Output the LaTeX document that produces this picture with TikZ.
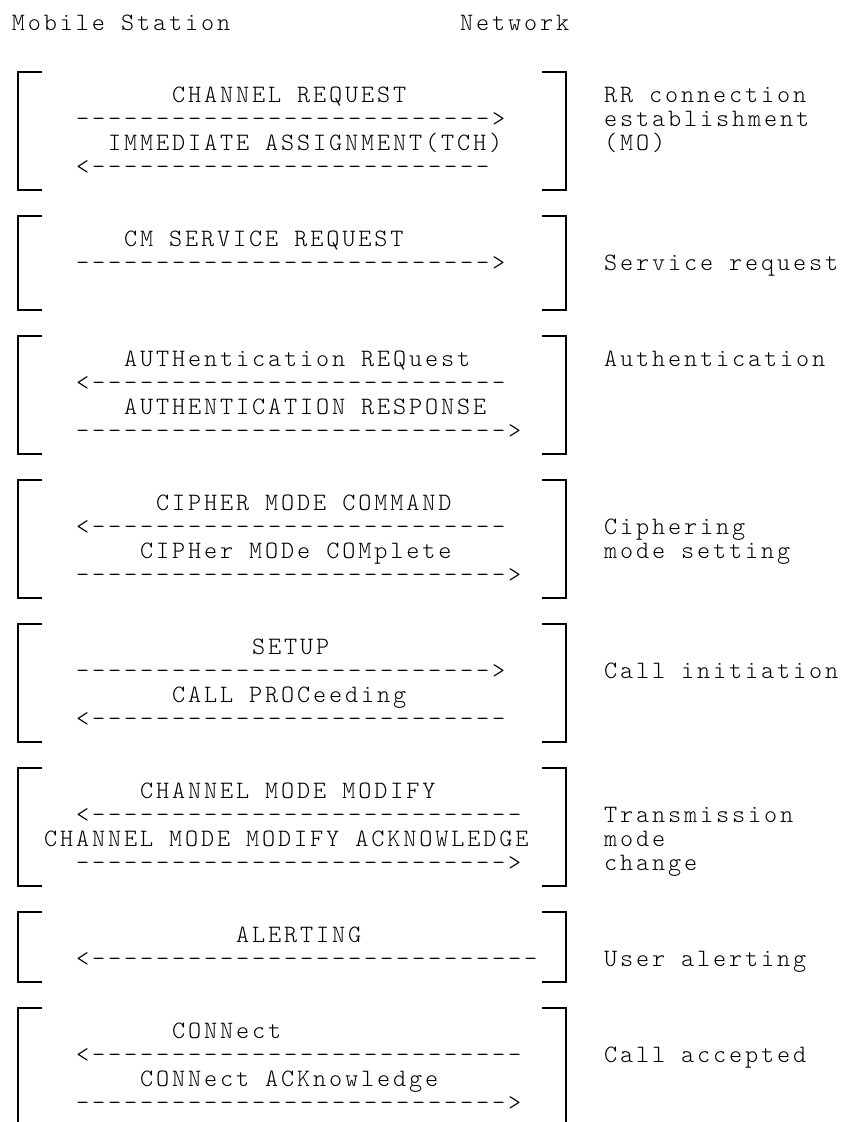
\documentclass[tikz,border=0pt]{standalone}
\usepackage{fontspec}
\newfontfamily\courfont[LetterSpace=11.5]{lmmonolt10-regular.otf}
\usepackage{tikz}

\begin{document}
\begin{tikzpicture}[x=16pt, y=-24pt, shift={(12pt,-30pt)},
  txt/.style={anchor=base west, inner sep=0pt, outer sep=0pt,
              text height=15pt, text depth=4pt,
              font=\courfont\fontsize{25}{24}\selectfont},
  brk/.style={line width=1.8pt}]

\useasboundingbox (-0.75,-1.25) rectangle (52.4375,45.5);

% header
\node[txt] (ms) at (0,0) {Mobile Station};
\node[txt] (nw) at (28,0) {Network};

% brackets
\foreach \a/\b in {3/6,9/11,14/17,20/23,26/29,32/35,38/39}{
  \draw[brk] (1.875,\a-1.25) -- (0.375,\a-1.25) -- (0.375,\b+0.667) -- (1.875,\b+0.667);
  \draw[brk] (33.125,\a-1.25) -- (34.625,\a-1.25) -- (34.625,\b+0.667) -- (33.125,\b+0.667);
}
\draw[brk] (1.875,40.75) -- (0.375,40.75) -- (0.375,45.5);
\draw[brk] (33.125,40.75) -- (34.625,40.75) -- (34.625,45.5);

% RR connection
\node[txt] (chreq) at (10,3) {CHANNEL REQUEST};
\node[txt] (chreqa) at (4,4) {-------------------------->};
\node[txt] (imm) at (6,5) {IMMEDIATE ASSIGNMENT(TCH)};
\node[txt] (imma) at (4,6) {<-------------------------};
\node[txt] (rr1) at (37,3) {RR connection};
\node[txt] (rr2) at (37,4) {establishment};
\node[txt] (rr3) at (37,5) {(MO)};

% service request
\node[txt] (cmreq) at (7,9) {CM SERVICE REQUEST};
\node[txt] (cmreqa) at (4,10) {-------------------------->};
\node[txt] (svc) at (37,10) {Service request};

% authentication
\node[txt] (aureq) at (7,14) {AUTHentication REQuest};
\node[txt] (aureqa) at (4,15) {<--------------------------};
\node[txt] (aursp) at (7,16) {AUTHENTICATION RESPONSE};
\node[txt] (aurspa) at (4,17) {--------------------------->};
\node[txt] (auth) at (37,14) {Authentication};

% ciphering
\node[txt] (ciph) at (9,20) {CIPHER MODE COMMAND};
\node[txt] (ciapha) at (4,21) {<--------------------------};
\node[txt] (cicmp) at (8,22) {CIPHer MODe COMplete};
\node[txt] (cicmpa) at (4,23) {--------------------------->};
\node[txt] (ci1) at (37,21) {Ciphering};
\node[txt] (ci2) at (37,22) {mode setting};

% call initiation
\node[txt] (setup) at (15,26) {SETUP};
\node[txt] (setupa) at (4,27) {-------------------------->};
\node[txt] (proc) at (10,28) {CALL PROCeeding};
\node[txt] (proca) at (4,29) {<--------------------------};
\node[txt] (init) at (37,27) {Call initiation};

% channel mode
\node[txt] (cmm) at (8,32) {CHANNEL MODE MODIFY};
\node[txt] (cmma) at (4,33) {<---------------------------};
\node[txt] (cmmack) at (2,34) {CHANNEL MODE MODIFY ACKNOWLEDGE};
\node[txt] (cmmacka) at (4,35) {--------------------------->};
\node[txt] (tm1) at (37,33) {Transmission};
\node[txt] (tm2) at (37,34) {mode};
\node[txt] (tm3) at (37,35) {change};

% alerting
\node[txt] (alert) at (14,38) {ALERTING};
\node[txt] (alerta) at (4,39) {<----------------------------};
\node[txt] (ual) at (37,39) {User alerting};

% connect
\node[txt] (conn) at (10,42) {CONNect};
\node[txt] (conna) at (4,43) {<---------------------------};
\node[txt] (connack) at (8,44) {CONNect ACKnowledge};
\node[txt] (connacka) at (4,45) {--------------------------->};
\node[txt] (acc) at (37,43) {Call accepted};

\end{tikzpicture}
\end{document}
